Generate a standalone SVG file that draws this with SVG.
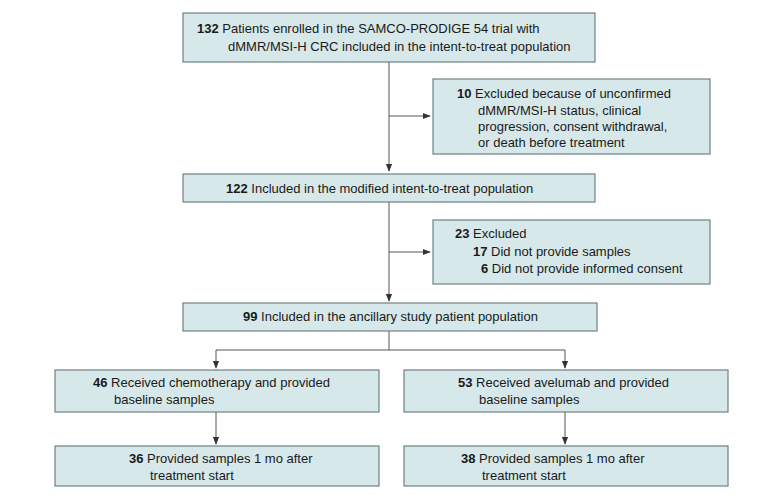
<svg xmlns="http://www.w3.org/2000/svg" width="780" height="501" viewBox="0 0 780 501">
<style>
.b{fill:#d6e8ea;stroke:#6f8085;stroke-width:1.2}
text{font-family:"Liberation Sans",Arial,sans-serif;font-size:13px;fill:#1a1a1a}
.n{font-weight:bold}
.c{stroke:#555;stroke-width:1;fill:none}
</style>
<defs><marker id="a" viewBox="0 0 10 10" refX="9" refY="5" markerWidth="8" markerHeight="8" orient="auto"><path d="M0,1L10,5L0,9z" fill="#333"/></marker></defs>
<rect width="780" height="501" fill="#fff"/>
<g id="connectors">
<path class="c" d="M389,62V171" marker-end="url(#a)"/>
<path class="c" d="M389,116H430" marker-end="url(#a)"/>
<path class="c" d="M389,202V301" marker-end="url(#a)"/>
<path class="c" d="M389,252H430" marker-end="url(#a)"/>
<path class="c" d="M389,331V350H216V368" marker-end="url(#a)"/>
<path class="c" d="M389,350H565V368" marker-end="url(#a)"/>
<path class="c" d="M216,412V444" marker-end="url(#a)"/>
<path class="c" d="M565,412V444" marker-end="url(#a)"/>
</g>
<g id="n1"><rect class="b" x="183" y="13" width="412" height="49"/><text x="197" y="33"><tspan class="n">132</tspan> Patients enrolled in the SAMCO-PRODIGE 54 trial with</text><text x="228" y="51">dMMR/MSI-H CRC included in the intent-to-treat population</text></g>
<g id="n2"><rect class="b" x="433" y="79" width="277" height="75"/><text x="457" y="98"><tspan class="n">10</tspan> Excluded because of unconfirmed</text><text x="478" y="115">dMMR/MSI-H status, clinical</text><text x="478" y="131">progression, consent withdrawal,</text><text x="478" y="147">or death before treatment</text></g>
<g id="n3"><rect class="b" x="183" y="174" width="412" height="28"/><text x="226" y="193"><tspan class="n">122</tspan> Included in the modified intent-to-treat population</text></g>
<g id="n4"><rect class="b" x="433" y="220" width="277" height="64"/><text x="455" y="238"><tspan class="n">23</tspan> Excluded</text><text x="473" y="256"><tspan class="n">17</tspan> Did not provide samples</text><text x="481" y="273"><tspan class="n">6</tspan> Did not provide informed consent</text></g>
<g id="n5"><rect class="b" x="183" y="303" width="414" height="28"/><text x="243" y="321"><tspan class="n">99</tspan> Included in the ancillary study patient population</text></g>
<g id="n6"><rect class="b" x="55" y="370" width="324" height="42"/><text x="93" y="387"><tspan class="n">46</tspan> Received chemotherapy and provided</text><text x="114" y="404">baseline samples</text></g>
<g id="n7"><rect class="b" x="404" y="370" width="324" height="42"/><text x="458" y="387"><tspan class="n">53</tspan> Received avelumab and provided</text><text x="479" y="404">baseline samples</text></g>
<g id="n8"><rect class="b" x="55" y="446" width="324" height="40"/><text x="129" y="463"><tspan class="n">36</tspan> Provided samples 1 mo after</text><text x="150" y="480">treatment start</text></g>
<g id="n9"><rect class="b" x="404" y="446" width="324" height="40"/><text x="461" y="463"><tspan class="n">38</tspan> Provided samples 1 mo after</text><text x="482" y="480">treatment start</text></g>
</svg>
